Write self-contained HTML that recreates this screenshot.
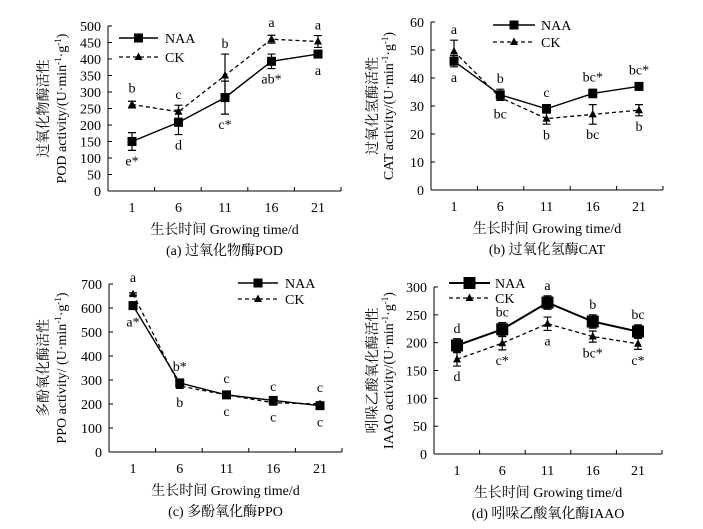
<!DOCTYPE html>
<html><head><meta charset="utf-8"><style>
body{margin:0;background:#fff}
svg{display:block;font-family:"Liberation Serif","Noto Serif CJK SC",serif}
</style></head><body>
<svg id="s" width="703" height="529" viewBox="0 0 703 529"></svg>
<script>
const days=[1,6,11,16,21];
const podNAA=[150,208,283,393,415], podNAAerr=[27,37,50,22,5];
const podCK=[262,240,350,460,453], podCKerr=[10,20,65,12,18];
const podNAAlab=["e*","d","c*","ab*","a"], podCKlab=["b","c","b","a","a"];
const podTicks=[0,50,100,150,200,250,300,350,400,450,500];
const catNAA=[46,34,29,34.5,37], catNAAerr=[2,2,1.5,1.5,1];
const catCK=[49.5,33,25.5,27,28.5], catCKerr=[4,1,2,3.5,2];
const catNAAlab=["a","b","c","bc*","bc*"], catCKlab=["a","bc","b","bc","b"];
const catTicks=[0,10,20,30,40,50,60];
const ppoNAA=[610,288,238,215,193], ppoNAAerr=[8,8,5,8,8];
const ppoCK=[658,275,238,205,200], ppoCKerr=[5,8,5,8,5];
const ppoNAAlab=["a*","b*","c","c","c"], ppoCKlab=["a","b","c","c","c"];
const ppoTicks=[0,100,200,300,400,500,600,700];
const iaaNAA=[195,224,272,238,220], iaaNAAerr=[12,12,12,12,12];
const iaaCK=[170,199,234,211,198], iaaCKerr=[12,12,12,10,10];
const iaaNAAlab=["d","bc","a","b","bc"], iaaCKlab=["d","c*","a","bc*","c*"];
const iaaTicks=[0,50,100,150,200,250,300];

const S=document.getElementById('s');const NS='http://www.w3.org/2000/svg';
function el(t,a,txt){const e=document.createElementNS(NS,t);for(const k in a)e.setAttribute(k,a[k]);if(txt!==undefined)e.textContent=txt;S.appendChild(e);return e;}

function panel(p){
  const yS=v=>p.y0-(v/p.ymax)*(p.y0-p.ytop);
  const xS=d=>p.x1+(d-1)/20*(p.x21-p.x1);
  let e=el('line',{x1:p.ax,y1:p.ytop,x2:p.ax,y2:p.y0,stroke:'#000','stroke-width':1});
  
  e=el('line',{x1:p.ax,y1:p.y0,x2:p.xend,y2:p.y0,stroke:'#000','stroke-width':1});
  
  p.ticks.forEach(t=>{
    el('line',{x1:p.ax,y1:yS(t),x2:p.ax+4,y2:yS(t),stroke:'#000'});
    e=el('text',{x:p.ax-7,y:yS(t)+5,'text-anchor':'end','font-size':14},t);
    
  });
  const step=(p.x21-p.x1)/4;
  for(let i=0;i<=5;i++){const x=p.ax+(i)*((p.xend-p.ax)/5);el('line',{x1:x,y1:p.y0,x2:x,y2:p.y0-4,stroke:'#000'});}
  days.forEach(d=>{e=el('text',{x:xS(d),y:p.y0+21,'text-anchor':'middle','font-size':14},d);
    });
  e=el('text',{x:(p.ax+p.xend)/2,y:p.y0+43,'text-anchor':'middle','font-size':14},'生长时间 Growing time/d');
  
  e=el('text',{x:(p.ax+p.xend)/2,y:p.y0+64,'text-anchor':'middle','font-size':14},p.caption);
  
  const cy=(p.ytop+p.y0)/2;
  e=el('text',{x:0,y:0,'text-anchor':'middle','font-size':14,transform:`translate(${p.tx1},${cy}) rotate(-90)`},p.t1);
  
  e=el('text',{x:0,y:0,'text-anchor':'middle','font-size':14,transform:`translate(${p.tx2},${cy}) rotate(-90)`});
  e.innerHTML=p.t2;
  
  const series=[[p.ck,p.ckErr,p.ckLab,'ck',true],[p.naa,p.naaErr,p.naaLab,'naa',false]];
  series.forEach(([vals,errs,labs,nm,dash])=>{
    const pts=vals.map((v,i)=>xS(days[i])+','+yS(v)).join(' ');
    e=el('polyline',{points:pts,fill:'none',stroke:'#000','stroke-width':dash?1.3:p.lw,'stroke-dasharray':dash?'4,3':'none'});
    
    vals.forEach((v,i)=>{
      const x=xS(days[i]),y=yS(v),eu=yS(v+errs[i]),ed=yS(v-errs[i]);
      e=el('path',{d:`M${x},${eu}V${ed}M${x-4},${eu}H${x+4}M${x-4},${ed}H${x+4}`,stroke:'#000','stroke-width':1.2,fill:'none'});
      
      if(dash){e=el('path',{d:`M${x},${y-4.5}L${x+4},${y+3}L${x-4},${y+3}Z`,fill:'#000'});}
      else{e=el('rect',{x:x-p.ms,y:y-p.ms,width:2*p.ms,height:2*p.ms,fill:'#000'});}
      
      const up=p.up[nm][i];
      const ly=up?Math.min(eu,y-6)-6:Math.max(ed,y+6)+15;
      e=el('text',{x:x,y:ly,'text-anchor':'middle','font-size':14},labs[i]);
      
    });
  });
  // legend
  const L=p.leg;
  e=el('line',{x1:L.x1,y1:L.yn,x2:L.x2,y2:L.yn,stroke:'#000','stroke-width':p.lw});
  
  const mx=(L.x1+L.x2)/2;
  el('rect',{x:mx-p.ms,y:L.yn-p.ms,width:2*p.ms,height:2*p.ms,fill:'#000'});
  e=el('text',{x:L.tx,y:L.yn+5,'font-size':14},'NAA');
  
  el('line',{x1:L.x1,y1:L.yc,x2:L.x2,y2:L.yc,stroke:'#000','stroke-width':1.3,'stroke-dasharray':'4,3'});
  el('path',{d:`M${mx},${L.yc-4.5}L${mx+4},${L.yc+3}L${mx-4},${L.yc+3}Z`,fill:'#000'});
  e=el('text',{x:L.tx,y:L.yc+5,'font-size':14},'CK');
  
}
const unit='(U·min<tspan font-size="9" dy="-5">-1</tspan><tspan dy="5">·g</tspan><tspan font-size="9" dy="-5">-1</tspan><tspan dy="5">)</tspan>';
panel({id:'pod',ax:108,xend:341,ytop:26,y0:191,ymax:500,x1:132,x21:318,ticks:podTicks,
  naa:podNAA,naaErr:podNAAerr,naaLab:podNAAlab,ck:podCK,ckErr:podCKerr,ckLab:podCKlab,lw:1.4,ms:4.5,
  up:{naa:[0,0,0,0,0],ck:[1,1,1,1,1]},caption:'(a) 过氧化物酶POD',t1:'过氧化物酶活性',t2:'POD activity/'+unit,tx1:48,tx2:66,
  leg:{x1:119,x2:158,yn:38,yc:57,tx:165}});
panel({id:'cat',ax:431,xend:663,ytop:22,y0:190,ymax:60,x1:454,x21:639,ticks:catTicks,
  naa:catNAA,naaErr:catNAAerr,naaLab:catNAAlab,ck:catCK,ckErr:catCKerr,ckLab:catCKlab,lw:1.4,ms:4.5,
  up:{naa:[0,1,1,1,1],ck:[1,0,0,0,0]},caption:'(b) 过氧化氢酶CAT',t1:'过氧化氢酶活性',t2:'CAT activity/'+unit,tx1:377,tx2:393,
  leg:{x1:493,x2:535,yn:25,yc:42,tx:541}});
panel({id:'ppo',ax:109,xend:342,ytop:284,y0:452,ymax:700,x1:133,x21:320,ticks:ppoTicks,
  naa:ppoNAA,naaErr:ppoNAAerr,naaLab:ppoNAAlab,ck:ppoCK,ckErr:ppoCKerr,ckLab:ppoCKlab,lw:1.4,ms:4.5,
  up:{naa:[0,1,0,0,0],ck:[1,0,1,1,1]},caption:'(c) 多酚氧化酶PPO',t1:'多酚氧化酶活性',t2:'PPO activity/ '+unit,tx1:48,tx2:66,
  leg:{x1:238,x2:278,yn:283,yc:299,tx:285}});
panel({id:'iaao',ax:434,xend:662,ytop:287,y0:454,ymax:300,x1:457,x21:638,ticks:iaaTicks,
  naa:iaaNAA,naaErr:iaaNAAerr,naaLab:iaaNAAlab,ck:iaaCK,ckErr:iaaCKerr,ckLab:iaaCKlab,lw:2,ms:6,
  up:{naa:[1,1,1,1,1],ck:[0,0,0,0,0]},caption:'(d) 吲哚乙酸氧化酶IAAO',t1:'吲哚乙酸氧化酶活性',t2:'IAAO activity/'+unit,tx1:377,tx2:393,
  leg:{x1:449,x2:490,yn:283,yc:298,tx:495}});
</script>
</body></html>
